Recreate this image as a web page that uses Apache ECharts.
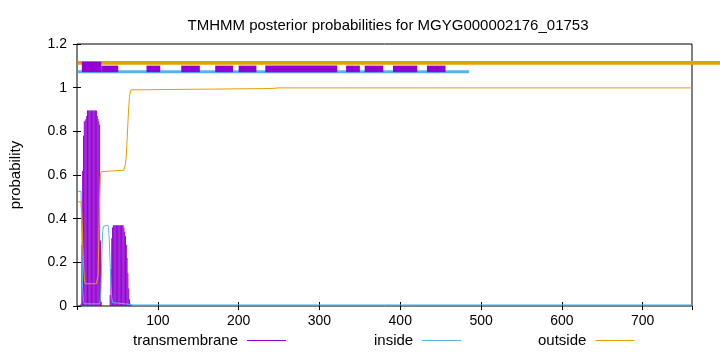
<!DOCTYPE html>
<html><head><meta charset="utf-8">
<script src="https://cdn.jsdelivr.net/npm/echarts@6/dist/echarts.min.js"></script>
<style>html,body{margin:0;padding:0;background:#fff}#c{width:720px;height:352px}</style>
</head><body><div id="c"></div>
<script>
// ---------------- data ----------------
const titleText = 'TMHMM posterior probabilities for MGYG000002176_01753';
const seriesNames = ['transmembrane', 'inside', 'outside'];
const yAxisName = 'probability';
const seqLength = 761;

// transmembrane posterior (impulses)
const tmResidue = [5,6,7,8,9,10,11,12,13,14,15,16,17,18,19,20,21,22,23,24,25,26,27,28,29,30,
  41,42,43,44,45,46,47,48,49,50,51,52,53,54,55,56,57,58,59,60,61,62,63,64,65,66];
const tmProb = [0.01,0.28,0.62,0.78,0.845,0.85,0.855,0.87,0.895,0.895,0.895,0.895,0.895,0.895,0.895,0.895,0.895,0.895,0.895,0.895,0.87,0.856,0.845,0.83,0.3,0.02,
  0.05,0.17,0.31,0.36,0.37,0.37,0.37,0.37,0.37,0.37,0.37,0.37,0.37,0.37,0.37,0.37,0.37,0.36,0.34,0.32,0.28,0.22,0.15,0.08,0.03,0.01];

// inside posterior
const insideResidue = [1,5,6,7,8,9,28,29,30,31,32,33,34,38,39,40,41,42,43,44,60,70,761];
const insideProb = [0.525,0.525,0.3,0.08,0.02,0.01,0.01,0.03,0.12,0.28,0.35,0.365,0.37,0.37,0.36,0.3,0.2,0.1,0.04,0.015,0.01,0.005,0.005];

// outside posterior
const outsideResidue = [1,5,6,7,8,9,10,24,25,26,27,28,29,30,31,58,59,60,61,62,63,64,65,66,67,68,240,250,761];
const outsideProb = [0.477,0.477,0.42,0.3,0.2,0.13,0.102,0.102,0.11,0.14,0.3,0.5,0.6,0.615,0.622,0.622,0.63,0.65,0.69,0.76,0.84,0.91,0.96,0.98,0.99,0.995,0.996,0.999,0.999];

// predicted topology segments (residue ranges)
const tmSegStart = [6, 30, 86, 129, 171, 200, 233, 333, 356, 391, 433];
const tmSegEnd   = [30, 51, 103, 152, 193, 222, 322, 350, 379, 421, 456];
const tmSegStrong = [true, false, false, false, false, false, false, false, false, false, false];
const insideSegStart = [1];
const insideSegEnd = [485];
const outsideSegStart = [1];
const outsideSegEnd = [800];

// ---------------- chart ----------------
const C_TM = '#9400d3', C_IN = '#56b4e9', C_OUT = '#e69f00';
const FONT = 'Liberation Sans';
const FS = 14;

const zip = (a, b) => a.map((v, i) => [v, b[i]]);

function bandRender(getLoHi, color) {
  return function (params, api) {
    const lh = getLoHi(params.dataIndex);
    const p0 = api.coord([api.value(0), lh[1]]);
    const p1 = api.coord([api.value(1), lh[0]]);
    return {
      type: 'rect',
      shape: { x: p0[0], y: p0[1], width: p1[0] - p0[0], height: p1[1] - p0[1] },
      style: { fill: color }
    };
  };
}

const chart = echarts.init(document.getElementById('c'), null, { renderer: 'canvas' });
const legendBase = {
  orient: 'horizontal', align: 'right', icon: 'rect', itemWidth: 39, itemHeight: 1,
  top: 333, padding: 0,
  textStyle: { fontFamily: FONT, fontSize: 15, color: '#000', padding: [0, 4, 0, 0] }
};
chart.setOption({
  animation: false,
  backgroundColor: '#fff',
  title: {
    text: titleText, left: 383, top: 13, textAlign: 'center',
    textStyle: { fontFamily: FONT, fontSize: 15, fontWeight: 'normal', color: '#000' }
  },
  legend: [
    Object.assign({}, legendBase, { data: [seriesNames[0]], left: 133 }),
    Object.assign({}, legendBase, { data: [seriesNames[1]], left: 374 }),
    Object.assign({}, legendBase, { data: [seriesNames[2]], left: 538 })
  ],
  grid: { left: 72, top: 44, width: 620, height: 262, show: true, borderColor: '#000', borderWidth: 1, containLabel: false },
  xAxis: [{
    type: 'value', min: 0, max: seqLength, interval: 100,
    axisLine: { show: false }, splitLine: { show: false },
    axisTick: { show: true, inside: true, length: 4, lineStyle: { color: '#000' } },
    axisLabel: { showMinLabel: false, showMaxLabel: false, margin: 8, fontFamily: FONT, fontSize: FS, color: '#000' }
  }, {
    type: 'value', min: 0, max: seqLength, interval: 100, position: 'top',
    axisLine: { show: false }, splitLine: { show: false },
    axisTick: { show: true, inside: true, length: 4, lineStyle: { color: '#000' } },
    axisLabel: { show: false }
  }],
  yAxis: [{
    type: 'value', min: 0, max: 1.2, interval: 0.2,
    name: yAxisName, nameLocation: 'middle', nameGap: 54, nameRotate: 90,
    nameTextStyle: { fontFamily: FONT, fontSize: 15, color: '#000' },
    axisLine: { show: false }, splitLine: { show: false },
    axisTick: { show: true, inside: true, length: 4, lineStyle: { color: '#000' } },
    axisLabel: { margin: 10, fontFamily: FONT, fontSize: FS, color: '#000' }
  }, {
    type: 'value', min: 0, max: 1.2, interval: 0.2, position: 'right',
    axisLine: { show: false }, splitLine: { show: false },
    axisTick: { show: true, inside: true, length: 4, lineStyle: { color: '#000' } },
    axisLabel: { show: false }
  }],
  series: [
    {
      name: seriesNames[0], type: 'bar', data: zip(tmResidue, tmProb),
      barWidth: 0.7, itemStyle: { color: C_TM }, z: 2
    },
    {
      name: seriesNames[1], type: 'line', data: zip(insideResidue, insideProb),
      showSymbol: false, lineStyle: { width: 1, color: C_IN }, itemStyle: { color: C_IN }, z: 3
    },
    {
      name: seriesNames[2], type: 'line', data: zip(outsideResidue, outsideProb),
      showSymbol: false, lineStyle: { width: 1, color: C_OUT }, itemStyle: { color: C_OUT }, z: 4
    },
    {
      type: 'custom', clip: false, z: 5, silent: true,
      data: zip(outsideSegStart, outsideSegEnd), encode: { x: [0, 1] },
      renderItem: bandRender(() => [1.105, 1.122], C_OUT)
    },
    {
      type: 'custom', clip: false, z: 6, silent: true,
      data: zip(insideSegStart, insideSegEnd), encode: { x: [0, 1] },
      renderItem: bandRender(() => [1.066, 1.080], C_IN)
    },
    {
      type: 'custom', clip: false, z: 7, silent: true,
      data: zip(tmSegStart, tmSegEnd), encode: { x: [0, 1] },
      renderItem: bandRender(i => tmSegStrong[i] ? [1.071, 1.119] : [1.071, 1.101], C_TM)
    }
  ]
});
</script>
</body></html>
